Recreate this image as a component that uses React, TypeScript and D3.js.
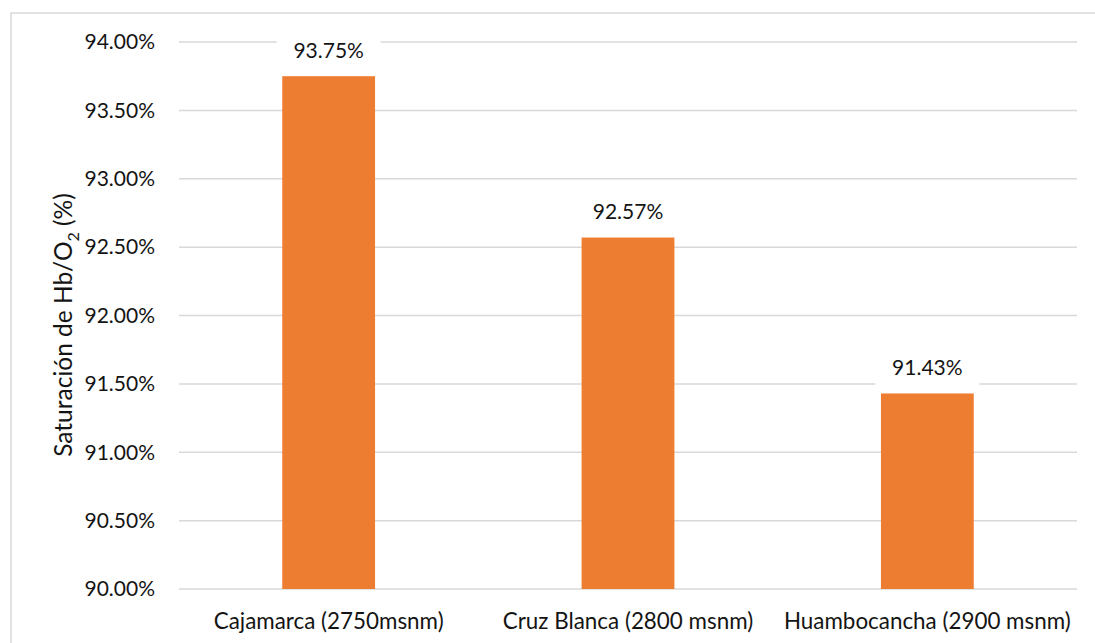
import React from "react";
import * as d3 from "d3";

const categories = ["Cajamarca (2750msnm)", "Cruz Blanca (2800 msnm)", "Huambocancha (2900 msnm)"];
const values = [93.75, 92.57, 91.43];
const valueLabels = ["93.75%", "92.57%", "91.43%"];
const yTicks = [90, 90.5, 91, 91.5, 92, 92.5, 93, 93.5, 94];

const W = 1095;
const H = 643;
const FONT = "Lato, 'Open Sans', sans-serif";
const TXT = "#141414";

export default function App() {
  const x = d3.scaleBand<string>().domain(categories).range([179, 1077]).paddingInner(0.69).paddingOuter(0.345);
  const y = d3.scaleLinear().domain([90, 94]).range([589, 42]);
  const fmt = (v: number) => v.toFixed(2) + "%";

  return (
    <svg width={W} height={H} style={{ position: "absolute", left: 0, top: 0, background: "#fff" }} fontFamily={FONT}>
      <rect x={11} y={13} width={W + 10} height={H + 10} fill="#fff" stroke="#D9D9D9" strokeWidth={1.5} />
      {yTicks.map((t) => (
        <g key={t}>
          <line x1={179} x2={1077} y1={y(t)} y2={y(t)} stroke="#D9D9D9" strokeWidth={1.5} />
          <text x={155} y={y(t)} dy="0.35em" textAnchor="end" fontSize={21} fill={TXT}>
            {fmt(t)}
          </text>
        </g>
      ))}
      {categories.map((c, i) => {
        const bx = x(c)!;
        const bw = x.bandwidth();
        const cx = bx + bw / 2;
        const top = y(values[i]);
        return (
          <g key={c}>
            <rect x={bx} y={top} width={bw} height={y(90) - top} fill="#ED7D31" />
            <rect x={cx - 52} y={top - 48} width={104} height={46} fill="#fff" />
            <text x={cx} y={top - 25.5} dy="0.35em" textAnchor="middle" fontSize={21} fill={TXT}>
              {valueLabels[i]}
            </text>
            <text x={cx} y={621} dy="0.35em" textAnchor="middle" fontSize={22.4} fill={TXT}>
              {c}
            </text>
          </g>
        );
      })}
      <text transform="translate(63,325) rotate(-90)" textAnchor="middle" dy="0.35em" fontSize={24.5} fill={TXT}>
        Saturación de Hb/O
        <tspan fontSize={16} dy="7">2</tspan>
        <tspan dy="-7"> (%)</tspan>
      </text>
    </svg>
  );
}
